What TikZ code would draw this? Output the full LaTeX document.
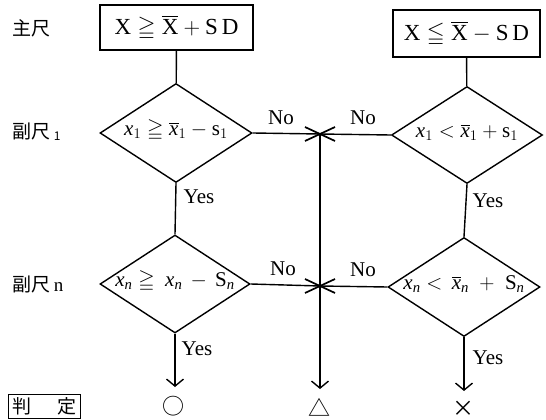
\RequirePackage{fix-cm}
\documentclass[tikz,border=0pt]{standalone}
\usepackage{amssymb}
\usepackage{fontspec}
\setmainfont{Liberation Serif}
\newfontfamily\cjk{Noto Sans CJK JP}
\usetikzlibrary{shapes.geometric,arrows.meta}
\newcommand{\flatbox}[1]{\raisebox{0pt}[8pt][3pt]{#1}}
\begin{document}
\begin{tikzpicture}[x=1pt,y=-1pt,line width=1.4pt,
  boxnode/.style={draw,rectangle,inner sep=0pt,font=\fontsize{23}{26}\selectfont},
  dia/.style={draw,diamond,inner sep=0pt,aspect=1.5,font=\fontsize{21}{24}\selectfont},
  lbl/.style={font=\fontsize{21}{24}\selectfont,inner sep=0pt},
  sidelbl/.style={font=\cjk\fontsize{19}{22}\selectfont,inner sep=0pt,anchor=west},
  flowarrow/.style={-{Straight Barb[length=7pt,width=17pt,line width=1.4pt]}},
  evalmark/.style={font=\cjk\fontsize{22}{24}\selectfont,inner sep=0pt},
  crossmark/.style={line width=1.7pt}]
\useasboundingbox (0,0) rectangle (546,420);

% side labels
\node[sidelbl] (lmain) at (12,28) {主尺};
\node[sidelbl] (lsub1) at (12,132) {副尺\,\raisebox{-2pt}{\fontsize{12}{12}\selectfont 1}};
\node[sidelbl] (lsubn) at (12,284) {副尺\,{\fontsize{19}{22}\selectfont\rmfamily n}};
\node[draw,line width=1.1pt,inner xsep=4pt,inner ysep=3pt,anchor=south west,font=\cjk\fontsize{19}{22}\selectfont] (judge) at (8,419) {判\hspace{26pt}定};

% boxes
\node[boxnode,minimum width=153pt,minimum height=45pt] (boxL) at (176.5,27.5)
  {$\mathrm{X}\geqq\overline{\mathrm{X}}+\mathrm{S\,D}$};
\node[boxnode,minimum width=147pt,minimum height=47pt] (boxR) at (466.5,33.5)
  {$\mathrm{X}\leqq\overline{\mathrm{X}}-\mathrm{S\,D}$};

% diamonds
\node[dia,minimum width=152pt,minimum height=99pt] (d1L) at (176,133)
  {\flatbox{$\mathit{x}_{1}\geqq\overline{\mathit{x}}_{1}-\mathrm{s}_{1}$}};
\node[dia,minimum width=151pt,minimum height=97pt] (d1R) at (467,135)
  {\flatbox{$\mathit{x}_{1}<\overline{\mathit{x}}_{1}+\mathrm{s}_{1}$}};
\node[dia,minimum width=150pt,minimum height=98pt] (d2L) at (175,284)
  {\flatbox{$\mathit{x}_{\mathit{n}}\geqq\:\mathit{x}_{\mathit{n}}\,-\,\mathrm{S}_{\mathit{n}}$}};
\node[dia,minimum width=152pt,minimum height=99pt] (d2R) at (464,287)
  {\flatbox{$\mathit{x}_{\mathit{n}}<\,\overline{\mathit{x}}_{\mathit{n}}\;+\;\mathrm{S}_{\mathit{n}}$}};

% junctions and ends
\coordinate (c1) at (320,134);
\coordinate (c2) at (320,286);
\coordinate (eL) at (175,387);
\coordinate (eM) at (320,389);
\coordinate (eR) at (464,391);

% connectors
\draw (boxL) -- (d1L);
\draw (boxR) -- (d1R);
\draw (d1L.south) -- (d2L.north);
\draw (d1R.south) -- (d2R.north);
\draw[flowarrow] (d2L.south) -- (eL);
\draw[flowarrow] (d2R.south) -- (eR);
\draw (d1L.east) -- (c1);
\draw (d1R.west) -- (c1);
\draw (d2L.east) -- (c2);
\draw (d2R.west) -- (c2);
\draw[flowarrow] (c1) -- (eM);
\draw[crossmark] ([shift={(-15,-7)}]c1) -- ([shift={(15,7)}]c1);
\draw[crossmark] ([shift={(-15,7)}]c1) -- ([shift={(15,-7)}]c1);
\draw[crossmark] ([shift={(-15,-7)}]c2) -- ([shift={(15,7)}]c2);
\draw[crossmark] ([shift={(-15,7)}]c2) -- ([shift={(15,-7)}]c2);

% connector labels
\node[lbl] (no1a) at (281,118) {No};
\node[lbl] (no1b) at (363,118) {No};
\node[lbl] (no2a) at (283,269) {No};
\node[lbl] (no2b) at (363,270) {No};
\node[lbl,anchor=west] (yes1L) at (183,197) {Yes};
\node[lbl,anchor=west] (yes2L) at (181,349) {Yes};
\node[lbl,anchor=west] (yes1R) at (472,201) {Yes};
\node[lbl,anchor=west] (yes2R) at (472,358) {Yes};

% results
\node[evalmark] (rO) at (173,406) {○};
\node[evalmark] (rT) at (319,407) {△};
\node[evalmark] (rX) at (463,409) {×};
\end{tikzpicture}
\end{document}
